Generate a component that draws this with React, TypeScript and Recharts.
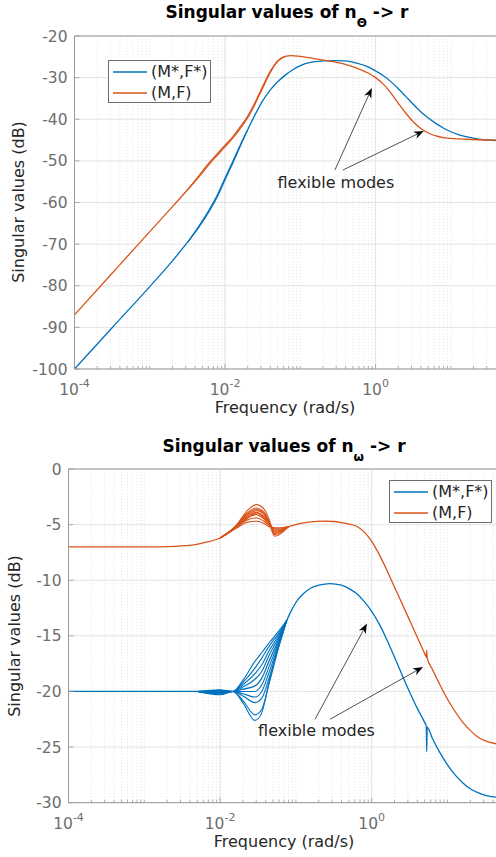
import React from "react";
import {
  CartesianGrid,
  Line,
  LineChart,
  ReferenceDot,
  ReferenceLine,
  XAxis,
  YAxis,
} from "recharts";

const FONT = '"DejaVu Sans", sans-serif';
const BLUE = "#0072BD";
const ORANGE = "#D95319";
const AXIS = "#999999";
const TICK_TEXT = "#6e6e6e";
const LABEL = "#262626";

// ---- top plot: n_theta -> r ----
const topFreqStar = [
  0.0001, 0.000316, 0.001, 0.00178, 0.00316, 0.00447, 0.00631, 0.00794, 0.01, 0.0126,
  0.0158, 0.02, 0.0251, 0.0316, 0.0398, 0.0501, 0.0631, 0.0794, 0.1, 0.141, 0.2, 0.282,
  0.398, 0.562, 0.794, 1, 1.259, 1.585, 1.995, 2.512, 3.162, 3.981, 5.012, 6.31, 7.943, 10,
  12.59, 15.85, 22.39, 39.8,
];
const topDbStar = [
  -100, -90.1, -80.2, -75.1, -69.6, -66.0, -61.8, -58.5, -54.5, -50.6, -46.6, -42.5, -38.9,
  -35.6, -33.0, -31.0, -29.4, -28.1, -27.1, -26.3, -26.0, -25.9, -26.0, -26.5, -27.4, -28.4,
  -29.5, -30.9, -32.6, -34.5, -36.4, -38.2, -39.7, -41.0, -42.1, -43.0, -43.7, -44.2, -44.7,
  -45.1,
];
const topFreqStarAlt = [0.00316, 0.00447, 0.00631, 0.00794, 0.01, 0.0126, 0.0158, 0.02];
const topDbStarAlt = [-69.6, -65.7, -61.4, -58.1, -54.1, -50.2, -46.3, -42.5];

const topFreqMF = [
  0.0001, 0.000316, 0.001, 0.002, 0.00316, 0.00447, 0.00631, 0.00794, 0.01, 0.0126, 0.0158,
  0.02, 0.0251, 0.0316, 0.0398, 0.0501, 0.0631, 0.0759, 0.1, 0.141, 0.2, 0.282, 0.398,
  0.562, 0.794, 1, 1.259, 1.585, 1.995, 2.512, 3.162, 3.981, 5.012, 6.31, 7.943, 10, 15.85,
  39.8,
];
const topDbMF = [
  -87, -77, -67, -61, -57.0, -53.9, -50.6, -48.6, -46.6, -44.6, -42.3, -39.6, -36.3, -32.5,
  -28.8, -26.1, -24.9, -24.7, -24.9, -25.3, -25.8, -26.2, -26.8, -27.7, -28.9, -30.0, -31.5,
  -33.6, -36.1, -38.5, -40.6, -42.2, -43.3, -44.0, -44.4, -44.6, -44.8, -45.0,
];
const topFreqMFAlt = [
  0.00316, 0.00447, 0.00631, 0.00794, 0.01, 0.0126, 0.0158, 0.02, 0.0251, 0.0316, 0.0398,
  0.0501, 0.0631,
];
const topDbMFAlt = [
  -57.0, -53.6, -50.2, -48.2, -46.2, -44.2, -41.9, -39.2, -35.9, -32.1, -28.5, -25.9, -24.9,
];

// ---- bottom plot: n_omega -> r ----
const botFreqStar = [
  0.0001, 0.001, 0.00316, 0.00501, 0.01, 0.0148, 0.01995, 0.0288, 0.0355, 0.0447, 0.0589,
  0.0759, 0.0891, 0.1, 0.126, 0.158, 0.2, 0.282, 0.398, 0.501, 0.631, 0.794, 1, 1.259,
  1.585, 1.995, 2.512, 3.162, 3.981, 5.012, 5.248, 5.321, 5.395, 6.31, 7.943, 10, 12.59,
  15.85, 19.95, 25.12, 31.62, 43.65,
];
const botDbStar = [
  -20, -20, -20, -20, -20.05, -20, -19.8, -19.5, -18.8, -17.2, -15.4, -13.6, -12.6, -12.0,
  -11.2, -10.7, -10.45, -10.3, -10.45, -10.75, -11.2, -11.9, -12.8, -13.95, -15.35, -16.9,
  -18.5, -20.05, -21.5, -22.8, -23.1, -25.4, -23.2, -24.2, -25.5, -26.6, -27.5, -28.2,
  -28.75, -29.1, -29.35, -29.5,
];
// the spread of (M*,F*) curves around 0.03 rad/s
const botFreqStarSpread = [0.00501, 0.01, 0.0148, 0.01995, 0.0288, 0.0355, 0.0447, 0.0589, 0.0759];
const botDbStarSpread = [
  [-20, -19.85, -20, -19.0, -17.3, -16.5, -15.6, -14.6, -13.6],
  [-20, -19.9, -20, -19.2, -17.9, -17.0, -15.9, -14.8, -13.6],
  [-20, -19.95, -20, -19.4, -18.4, -17.6, -16.3, -15.0, -13.6],
  [-20, -20.0, -20, -19.6, -18.9, -18.2, -16.7, -15.2, -13.6],
  [-20, -20.1, -20, -20.0, -20.0, -19.4, -17.7, -15.6, -13.6],
  [-20, -20.15, -20, -20.2, -20.5, -20.0, -18.2, -15.8, -13.6],
  [-20, -20.2, -20, -20.4, -21.0, -20.6, -18.7, -16.0, -13.6],
  [-20, -20.25, -20, -20.8, -22.1, -21.6, -19.2, -16.1, -13.6],
  [-20, -20.3, -20, -21.0, -22.6, -21.9, -19.0, -15.9, -13.6],
];

const botFreqMF = [
  0.0001, 0.001, 0.00251, 0.00447, 0.00631, 0.01, 0.0126, 0.0166, 0.0224, 0.0302, 0.038,
  0.0447, 0.0525, 0.0631, 0.0794, 0.1, 0.126, 0.158, 0.224, 0.316, 0.398, 0.501, 0.631,
  0.794, 1, 1.259, 1.585, 1.995, 2.512, 3.162, 3.981, 5.012, 5.248, 5.321, 5.395, 6.31,
  7.943, 10, 12.59, 15.85, 19.95, 25.12, 31.62, 43.65,
];
const botDbMF = [
  -7.0, -7.0, -6.95, -6.83, -6.6, -6.2, -5.8, -5.2, -4.5, -3.95, -4.3, -4.9, -5.5, -5.5,
  -5.2, -5.0, -4.85, -4.75, -4.68, -4.72, -4.82, -4.95, -5.15, -5.65, -6.5, -7.7, -9.1,
  -10.6, -12.1, -13.6, -15.1, -16.6, -16.9, -16.3, -17.0, -18.0, -19.4, -20.7, -21.8,
  -22.75, -23.5, -24.1, -24.45, -24.7,
];
const botFreqMFSpread = [0.01, 0.0166, 0.0224, 0.0302, 0.038, 0.0447, 0.0525, 0.0631, 0.0794];
const botDbMFSpread = [
  [-6.2, -5.0, -3.8, -3.2, -3.6, -4.6, -5.9, -5.7, -5.2],
  [-6.2, -5.1, -4.0, -3.5, -3.9, -4.8, -5.8, -5.6, -5.2],
  [-6.2, -5.1, -4.1, -3.65, -4.0, -4.8, -5.7, -5.6, -5.2],
  [-6.2, -5.1, -4.2, -3.75, -4.1, -4.9, -5.6, -5.5, -5.2],
  [-6.2, -5.15, -4.3, -3.9, -4.4, -5.0, -6.05, -5.8, -5.2],
  [-6.2, -5.2, -4.4, -4.1, -4.5, -5.0, -5.4, -5.4, -5.2],
  [-6.2, -5.2, -4.6, -4.4, -4.7, -5.1, -5.3, -5.3, -5.2],
  [-6.2, -5.3, -4.8, -4.7, -4.9, -5.2, -5.3, -5.3, -5.2],
];

const topYTicks = [-100, -90, -80, -70, -60, -50, -40, -30, -20];
const botYTicks = [-30, -25, -20, -15, -10, -5, 0];
const majorX = [1e-4, 1e-2, 1];
const legendItems = [
  { label: "(M*,F*)", color: BLUE },
  { label: "(M,F)", color: ORANGE },
];

// annotation anchors (rad/s, dB)
const topArrows = [
  { from: [0.288, -52.2], to: [0.893, -32.5] },
  { from: [0.368, -52.2], to: [4.37, -42.8] },
];
const topNote = [0.297, -55.1];
const botArrows = [
  { from: [0.1786, -22.5], to: [0.867, -13.9] },
  { from: [0.282, -22.5], to: [4.75, -17.8] },
];
const botNote = [0.187, -23.5];

const pts = (f: number[], v: number[]) => f.map((x, i) => ({ f: x, v: v[i] }));

function minorTicks(max: number) {
  const out: number[] = [];
  for (let e = -4; e <= 2; e++) {
    for (let m = 1; m <= 9; m++) {
      const t = m * Math.pow(10, e);
      if (t <= max) out.push(t);
    }
  }
  return out;
}

function isMajor(v: number) {
  return majorX.some((m) => Math.abs(Math.log10(v) - Math.log10(m)) < 1e-6);
}

function XTick(props: any) {
  const { x, y, payload } = props;
  const v = payload.value as number;
  const major = isMajor(v);
  const exp = Math.round(Math.log10(v));
  return (
    <g>
      <line x1={x} x2={x} y1={y} y2={y - (major ? 5 : 3)} stroke={AXIS} strokeWidth={0.8} />
      {major && (
        <text x={x} y={y + 26} textAnchor="middle" fontFamily={FONT} fontSize={15.5} fill={TICK_TEXT}>
          10
          <tspan dy={-8} fontSize={11}>
            {exp}
          </tspan>
        </text>
      )}
    </g>
  );
}

function YTick(props: any) {
  const { x, y, payload } = props;
  return (
    <g>
      <line x1={x} x2={x + 5} y1={y} y2={y} stroke={AXIS} strokeWidth={0.8} />
      <text x={x - 7} y={y} dy="0.36em" textAnchor="end" fontFamily={FONT} fontSize={15.5} fill={TICK_TEXT}>
        {payload.value}
      </text>
    </g>
  );
}

function Arrow(props: any) {
  const { x1, y1, x2, y2 } = props;
  const dx = x2 - x1;
  const dy = y2 - y1;
  const len = Math.sqrt(dx * dx + dy * dy) || 1;
  const ux = dx / len;
  const uy = dy / len;
  const nx = -uy;
  const ny = ux;
  const L = 10;
  const W = 3.8;
  const bx = x2 - L * ux;
  const by = y2 - L * uy;
  const head = `M${x2},${y2} L${bx + W * nx},${by + W * ny} L${x2 - (L - 3) * ux},${y2 - (L - 3) * uy} L${bx - W * nx},${by - W * ny} Z`;
  return (
    <g>
      <line x1={x1} y1={y1} x2={x2 - (L - 3) * ux} y2={y2 - (L - 3) * uy} stroke="#262626" strokeWidth={0.8} />
      <path d={head} fill="#000" />
    </g>
  );
}

function LegendBox({ left, top }: { left: number; top: number }) {
  return (
    <div
      style={{
        position: "absolute",
        left,
        top,
        boxSizing: "border-box",
        width: 103,
        height: 43,
        border: "1px solid #6e6e6e",
        background: "#fff",
        padding: "1px 0 0 4px",
        fontFamily: FONT,
        fontSize: 16,
        color: LABEL,
      }}
    >
      {legendItems.map((it) => (
        <div key={it.label} style={{ display: "flex", alignItems: "center", height: 20.5 }}>
          <svg width={34} height={4} style={{ display: "block" }}>
            <line x1={0} x2={34} y1={2} y2={2} stroke={it.color} strokeWidth={1.5} />
          </svg>
          <span style={{ marginLeft: 4, lineHeight: "20px" }}>{it.label}</span>
        </div>
      ))}
    </div>
  );
}

type PlotProps = {
  top: number;
  height: number;
  marginTop: number;
  yAxisWidth: number;
  xAxisHeight: number;
  xMax: number;
  yTicks: number[];
  star: { f: number; v: number }[];
  starExtra: { f: number; v: number }[][];
  mf: { f: number; v: number }[];
  mfExtra: { f: number; v: number }[][];
  arrows: { from: number[]; to: number[] }[];
  note: number[];
  legendPos: { left: number; top: number };
  title: { x: number; y: number; sub: string };
  yLabel: { x: number; y: number };
  xLabel: { x: number; y: number };
};

function SvPlot(p: PlotProps) {
  const ticks = minorTicks(p.xMax);
  const yMin = p.yTicks[0];
  const yMax = p.yTicks[p.yTicks.length - 1];
  return (
    <div style={{ position: "absolute", left: 0, top: p.top, width: 496, height: p.height }}>
      <LineChart width={496} height={p.height} margin={{ top: p.marginTop, right: 0, bottom: 0, left: 0 }}>
        <CartesianGrid horizontal={false} verticalValues={ticks} stroke="#e6e6e6" strokeDasharray="1 2" />
        <CartesianGrid vertical={true} verticalValues={majorX} horizontal={true} stroke="#e3e3e3" />
        <XAxis
          dataKey="f"
          type="number"
          scale="log"
          domain={[1e-4, p.xMax]}
          allowDataOverflow
          ticks={ticks}
          interval={0}
          tickSize={0}
          tickMargin={0}
          height={p.xAxisHeight}
          stroke={AXIS}
          tick={<XTick />}
        />
        <YAxis
          type="number"
          domain={[yMin, yMax]}
          ticks={p.yTicks}
          interval={0}
          tickSize={0}
          tickMargin={0}
          width={p.yAxisWidth}
          stroke={AXIS}
          tick={<YTick />}
        />
        <ReferenceLine y={yMax} stroke={AXIS} strokeWidth={1} />
        {p.starExtra.map((d, i) => (
          <Line key={"s" + i} data={d} dataKey="v" type="monotone" stroke={BLUE} strokeWidth={1.1} dot={false} activeDot={false} legendType="none" isAnimationActive={false} />
        ))}
        <Line data={p.star} dataKey="v" name="(M*,F*)" type="monotone" stroke={BLUE} strokeWidth={1.3} dot={false} activeDot={false} isAnimationActive={false} />
        {p.mfExtra.map((d, i) => (
          <Line key={"m" + i} data={d} dataKey="v" type="monotone" stroke={ORANGE} strokeWidth={1.1} dot={false} activeDot={false} legendType="none" isAnimationActive={false} />
        ))}
        <Line data={p.mf} dataKey="v" name="(M,F)" type="monotone" stroke={ORANGE} strokeWidth={1.3} dot={false} activeDot={false} isAnimationActive={false} />
        {p.arrows.map((a, i) => (
          <ReferenceLine
            key={"a" + i}
            segment={[
              { x: a.from[0], y: a.from[1] },
              { x: a.to[0], y: a.to[1] },
            ]}
            ifOverflow="visible"
            shape={(sp: any) => <Arrow {...sp} />}
          />
        ))}
        <ReferenceDot
          x={p.note[0]}
          y={p.note[1]}
          r={0}
          ifOverflow="visible"
          shape={(sp: any) => (
            <text x={sp.cx} y={sp.cy} textAnchor="middle" dominantBaseline="central" fontFamily={FONT} fontSize={16} fill={LABEL}>
              flexible modes
            </text>
          )}
        />
        <text x={p.title.x} y={p.title.y} textAnchor="middle" fontFamily={FONT} fontSize={17} fontWeight="bold" fill="#000">
          Singular values of n
          <tspan dy={9} fontSize={12}>
            {p.title.sub}
          </tspan>
          <tspan dy={-9}> -&gt; r</tspan>
        </text>
        <text
          x={p.yLabel.x}
          y={p.yLabel.y}
          textAnchor="middle"
          dominantBaseline="central"
          transform={`rotate(-90, ${p.yLabel.x}, ${p.yLabel.y})`}
          fontFamily={FONT}
          fontSize={16}
          fill={LABEL}
        >
          Singular values (dB)
        </text>
        <text x={p.xLabel.x} y={p.xLabel.y} textAnchor="middle" fontFamily={FONT} fontSize={16} fill={LABEL}>
          Frequency (rad/s)
        </text>
      </LineChart>
      <LegendBox left={p.legendPos.left} top={p.legendPos.top} />
    </div>
  );
}

export default function App() {
  return (
    <div style={{ position: "absolute", left: 0, top: 0, width: 496, height: 857, background: "#fff" }}>
      <SvPlot
        top={0}
        height={430}
        marginTop={36}
        yAxisWidth={74.5}
        xAxisHeight={61}
        xMax={39.8}
        yTicks={topYTicks}
        star={pts(topFreqStar, topDbStar)}
        starExtra={[pts(topFreqStarAlt, topDbStarAlt)]}
        mf={pts(topFreqMF, topDbMF)}
        mfExtra={[pts(topFreqMFAlt, topDbMFAlt)]}
        arrows={topArrows}
        note={topNote}
        legendPos={{ left: 108, top: 60 }}
        title={{ x: 287, y: 18, sub: "Θ" }}
        yLabel={{ x: 18, y: 202 }}
        xLabel={{ x: 285, y: 413 }}
      />
      <SvPlot
        top={430}
        height={427}
        marginTop={39}
        yAxisWidth={68.5}
        xAxisHeight={54.3}
        xMax={43.65}
        yTicks={botYTicks}
        star={pts(botFreqStar, botDbStar)}
        starExtra={botDbStarSpread.map((v) => pts(botFreqStarSpread, v))}
        mf={pts(botFreqMF, botDbMF)}
        mfExtra={botDbMFSpread.map((v) => pts(botFreqMFSpread, v))}
        arrows={botArrows}
        note={botNote}
        legendPos={{ left: 389, top: 50 }}
        title={{ x: 284, y: 22, sub: "ω" }}
        yLabel={{ x: 14, y: 206 }}
        xLabel={{ x: 284, y: 417 }}
      />
    </div>
  );
}
